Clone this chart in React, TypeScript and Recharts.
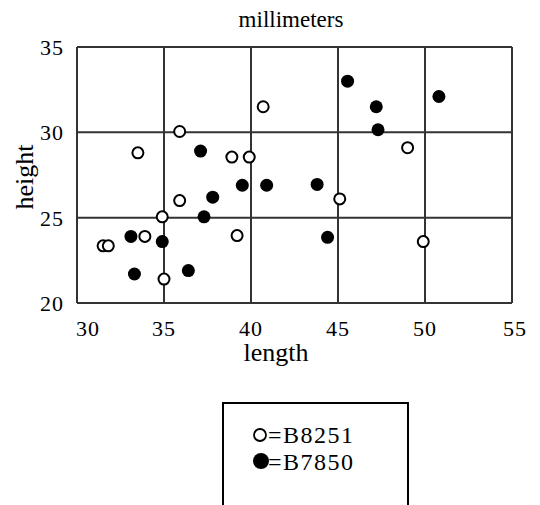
import { ScatterChart, Scatter, XAxis, YAxis, CartesianGrid } from 'recharts';

// B8251 (open circles)
const b8251Length = [31.5, 31.8, 33.5, 33.9, 34.9, 35.0, 35.9, 35.9, 38.9, 39.9, 39.2, 40.7, 49.0, 45.1, 49.9];
const b8251Height = [23.35, 23.35, 28.8, 23.9, 25.05, 21.4, 30.05, 26.0, 28.55, 28.55, 23.95, 31.5, 29.1, 26.1, 23.6];

// B7850 (filled circles)
const b7850Length = [33.1, 33.3, 34.9, 36.4, 37.1, 37.8, 37.3, 39.5, 40.9, 43.8, 44.4, 45.55, 47.2, 47.3, 50.8];
const b7850Height = [23.9, 21.7, 23.6, 21.9, 28.9, 26.2, 25.05, 26.9, 26.9, 26.95, 23.85, 33.0, 31.5, 30.15, 32.1];

const xTicks = [30, 35, 40, 45, 50, 55];
const yTicks = [20, 25, 30, 35];

const openData = b8251Length.map((x, i) => ({ x, y: b8251Height[i] }));
const filledData = b7850Length.map((x, i) => ({ x, y: b7850Height[i] }));

const FONT = '"Liberation Serif", "DejaVu Serif", serif';

const XTick = (props: any) => {
  const { x, y, payload } = props;
  const shift = payload.value === 30 ? 11 : payload.value === 55 ? 3 : 0;
  return (
    <text x={x + shift} y={y + 25} textAnchor="middle" fontFamily={FONT} fontSize={22} letterSpacing={1} fill="#000">
      {payload.value}
    </text>
  );
};

const YTick = (props: any) => {
  const { x, y, payload } = props;
  return (
    <text x={x - 5} y={y + 8} textAnchor="end" fontFamily={FONT} fontSize={22} letterSpacing={1} fill="#000">
      {payload.value}
    </text>
  );
};

const OpenDot = (props: any) => (
  <circle cx={props.cx} cy={props.cy} r={5.5} fill="#fff" stroke="#000" strokeWidth={2} />
);
const FilledDot = (props: any) => <circle cx={props.cx} cy={props.cy} r={6.5} fill="#000" />;

export default function App() {
  return (
    <div style={{ position: 'absolute', left: 0, top: 0, width: 540, height: 505, background: '#fff', overflow: 'hidden' }}>
      <ScatterChart width={540} height={505} margin={{ top: 47, right: 28, bottom: 162, left: 17 }}>
        <CartesianGrid stroke="#333" strokeWidth={2} />
        <XAxis type="number" dataKey="x" domain={[30, 55]} ticks={xTicks} height={40} axisLine={false} tickLine={false} tick={<XTick />} interval={0} />
        <YAxis type="number" dataKey="y" domain={[20, 35]} ticks={yTicks} width={60} axisLine={false} tickLine={false} tick={<YTick />} interval={0} />
        <Scatter data={openData} shape={<OpenDot />} isAnimationActive={false} />
        <Scatter data={filledData} shape={<FilledDot />} isAnimationActive={false} />
      </ScatterChart>
      <svg width={540} height={505} style={{ position: 'absolute', left: 0, top: 0, pointerEvents: 'none' }}>
        <text x={291} y={27} textAnchor="middle" fontFamily={FONT} fontSize={23} fill="#000">millimeters</text>
        <text x={276} y={361} textAnchor="middle" fontFamily={FONT} fontSize={26} fill="#000">length</text>
        <text transform="translate(33,177) rotate(-90)" textAnchor="middle" fontFamily={FONT} fontSize={26} fill="#000">height</text>
        <rect x={223} y={403} width={185} height={120} fill="none" stroke="#000" strokeWidth={2} />
        <circle cx={260} cy={435} r={6} fill="#fff" stroke="#000" strokeWidth={1.8} />
        <text x={268} y={443} fontFamily={FONT} fontSize={24} letterSpacing={1.5} fill="#000">=B8251</text>
        <circle cx={261} cy={461} r={8} fill="#000" />
        <text x={268} y={470} fontFamily={FONT} fontSize={24} letterSpacing={1.5} fill="#000">=B7850</text>
      </svg>
    </div>
  );
}
